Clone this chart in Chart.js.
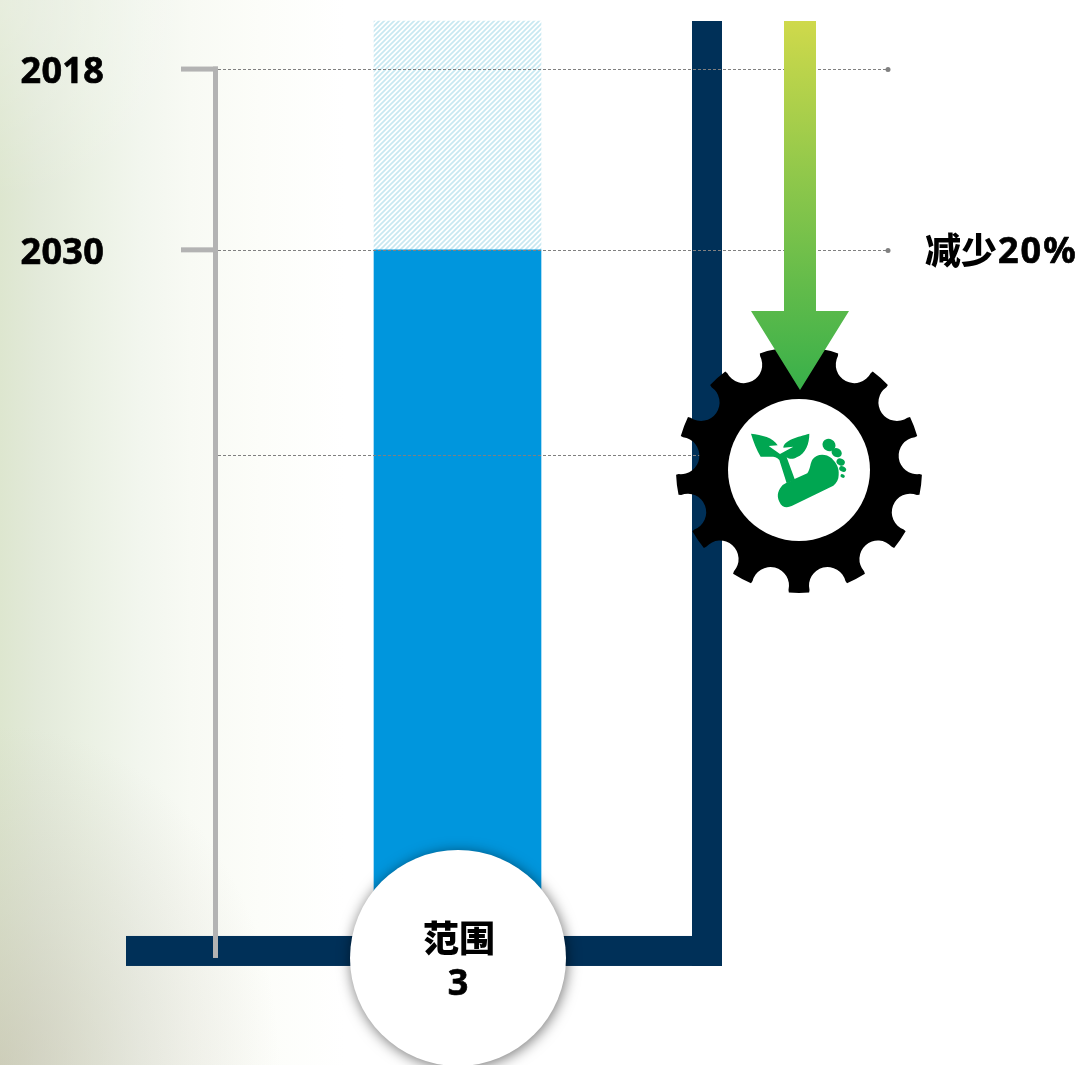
<!DOCTYPE html>
<html>
<head>
<meta charset="utf-8">
<title>范围 3</title>
<script src="https://cdn.jsdelivr.net/npm/chart.js@4/dist/chart.umd.min.js"></script>
<style>
  html, body { margin: 0; padding: 0; background: #fff; overflow: hidden; }
  #wrap {
    position: relative; width: 1084px; height: 1065px;
    background:
      radial-gradient(ellipse 280px 340px at 0 100%, rgba(190,182,165,0.5) 0, rgba(195,190,175,0.3) 45%, rgba(200,195,180,0) 100%),
      radial-gradient(ellipse 200px 200px at 0 0, rgba(255,255,255,0.3) 0, rgba(255,255,255,0) 100%),
      linear-gradient(90deg, #dde6cf 0, #e3eada 40px, #ebf1e4 90px, #f2f6ee 140px, #f8faf4 190px, #fcfdf9 260px, #ffffff 345px);
  }
</style>
</head>
<body>
<div id="wrap"><canvas id="chart" width="1084" height="1065"></canvas></div>
<script>
// ------------------------- DATA -------------------------------------

var categories = ["范围 3"];
var years = ["2018", "2030"];
var yearValues = [100, 79.5];      // share of the 2018 level
var targetValues = [79.5];         // solid bar
var hatchedValues = [25.95];       // hatched part on top of the solid bar
var guideValue = 56.25;            // third dotted line, ends at the gear
var reductionLabel = "减少20%";

// ------------------------- COLORS -----------------------------------

var NAVY = "#003058";
var BLUE = "#0096dd";
var GREY = "#b3b3b3";
var DOT = "#808080";
var LEAF = "#00a651";

// diagonal stripes for the part that goes away
function hatchPattern() {
  var c = document.createElement("canvas");
  c.width = 5; c.height = 5;
  var p = c.getContext("2d");
  p.strokeStyle = "#c8e8f1";
  p.lineWidth = 1.7;
  p.beginPath();
  p.moveTo(-1, 6); p.lineTo(6, -1);
  p.moveTo(-1, 1); p.lineTo(1, -1);
  p.moveTo(4, 6); p.lineTo(6, 4);
  p.stroke();
  return p.createPattern(c, "repeat");
}

// ------------------------- DRAWING ----------------------------------

// bold text with a hair of stroke, the source face is heavier than what we have
function heavyText(ctx, text, x, y, weight) {
  ctx.lineWidth = weight;
  ctx.strokeStyle = "#000";
  ctx.lineJoin = "round";
  ctx.strokeText(text, x, y);
  ctx.fillText(text, x, y);
}

function drawAxisFrame(ctx, y) {
  var base = y.getPixelForValue(0);
  var top = 21;
  ctx.fillStyle = NAVY;
  ctx.fillRect(126, base - 15, 596, 30);
  ctx.fillRect(692, top, 30, base + 15 - top);
}

function drawBracket(ctx, y) {
  ctx.fillStyle = GREY;
  var y0 = y.getPixelForValue(yearValues[0]);
  ctx.fillRect(213, y0 - 2.5, 5, y.getPixelForValue(0) + 7 - y0 + 2.5);
  yearValues.forEach(function(v) {
    ctx.fillRect(181, y.getPixelForValue(v) - 2.5, 37, 5);
  });
}

function drawGuides(ctx, y) {
  ctx.save();
  ctx.strokeStyle = DOT;
  ctx.fillStyle = DOT;
  ctx.lineWidth = 1;
  ctx.setLineDash([3, 2]);
  yearValues.forEach(function(v) {
    var py = Math.round(y.getPixelForValue(v)) + 0.5;
    ctx.beginPath(); ctx.moveTo(218, py); ctx.lineTo(888, py); ctx.stroke();
    ctx.beginPath(); ctx.arc(888, py, 2.5, 0, Math.PI * 2); ctx.fill();
  });
  var gy = Math.round(y.getPixelForValue(guideValue)) + 0.5;
  ctx.beginPath(); ctx.moveTo(218, gy); ctx.lineTo(700, gy); ctx.stroke();
  ctx.restore();
}

function drawCircle(ctx, y) {
  var cy = y.getPixelForValue(0) + 7;
  ctx.save();
  ctx.shadowColor = "rgba(0,0,0,0.55)";
  ctx.shadowBlur = 14;
  ctx.shadowOffsetX = 1;
  ctx.shadowOffsetY = 2;
  ctx.fillStyle = "#fff";
  ctx.beginPath(); ctx.arc(458, cy, 108, 0, Math.PI * 2); ctx.fill();
  ctx.restore();
  ctx.fillStyle = "#000";
  ctx.textAlign = "center";
  ctx.textBaseline = "middle";
  ctx.font = '900 36px "Noto Sans CJK SC"';
  var parts = categories[0].split(" ");
  ctx.fillText(parts[0], 459, 938);
  ctx.font = 'bold 36px "Noto Sans"';
  heavyText(ctx, parts[1], 458, 985, 0.7);
}

function drawGear(ctx) {
  var cx = 799, cy = 470, R = 123, d = 119, r = 18.5, n = 13;
  var beta = Math.asin(19.5 / R);     // half opening of a notch on the rim
  var step = Math.PI * 2 / n;
  ctx.beginPath();
  for (var i = 0; i < n; i++) {
    var a = -Math.PI / 2 + i * step;
    var next = a + step;
    ctx.arc(cx, cy, R, a + beta, next - beta);
    var nx = cx + d * Math.cos(next), ny = cy + d * Math.sin(next);
    ctx.arc(nx, ny, r, next - Math.PI / 2, next + Math.PI / 2, true);
  }
  ctx.closePath();
  ctx.fillStyle = "#000";
  ctx.fill();
  ctx.fillStyle = "#fff";
  ctx.beginPath(); ctx.arc(cx, cy, 71, 0, Math.PI * 2); ctx.fill();
}

function drawIcon(ctx) {
  ctx.save();
  ctx.translate(730, 400);
  ctx.scale(1 / 3, 1 / 3);
  ctx.fillStyle = LEAF;
  // leaves and stem
  ctx.fill(new Path2D("M63,101 C95,105 130,112 143,136 L116,138 L150,162 L190,140 L160,143 C162,120 205,110 238,101 C238,130 228,160 200,172 C190,178 178,178 170,172 L195,240 L170,250 L148,180 C135,165 120,172 92,170 C80,150 70,125 63,101 Z"));
  // sole
  ctx.fill(new Path2D("M192,238 L232,220 C242,205 240,190 248,178 C258,163 285,158 305,175 C320,190 328,205 326,225 C326,238 320,250 310,257 L185,318 C170,325 155,322 148,305 C138,285 146,268 158,255 C170,248 182,244 192,238 Z"));
  // toes
  [[297, 135, 20, 18], [320, 158, 16, 13], [332, 186, 13, 10], [338, 207, 11, 8], [338, 228, 7, 5]].forEach(function(t) {
    ctx.beginPath();
    ctx.ellipse(t[0], t[1], t[2], t[3], 0.5, 0, Math.PI * 2);
    ctx.fill();
  });
  ctx.restore();
}

function drawArrow(ctx) {
  var g = ctx.createLinearGradient(0, 21, 0, 390);
  g.addColorStop(0, "#cfd94b");
  g.addColorStop(1, "#38b04a");
  ctx.fillStyle = g;
  ctx.beginPath();
  ctx.moveTo(784, 21); ctx.lineTo(816, 21); ctx.lineTo(816, 311); ctx.lineTo(849, 311);
  ctx.lineTo(800, 390); ctx.lineTo(751, 311); ctx.lineTo(784, 311);
  ctx.closePath();
  ctx.fill();
}

function drawLabels(ctx, y) {
  ctx.fillStyle = "#000";
  ctx.textBaseline = "middle";
  ctx.textAlign = "left";
  ctx.font = 'bold 36px "Noto Sans"';
  ctx.letterSpacing = "0.3px";
  years.forEach(function(t, i) {
    heavyText(ctx, t, 20.5, y.getPixelForValue(yearValues[i]) + 3.5, 0.7);
  });
  var py = y.getPixelForValue(yearValues[1]);
  ctx.letterSpacing = "0px";
  ctx.font = '900 36px "Noto Sans CJK SC"';
  ctx.fillText(reductionLabel.slice(0, 2), 925, py);
  ctx.font = 'bold 36px "Noto Sans"';
  ctx.letterSpacing = "2px";
  heavyText(ctx, reductionLabel.slice(2), 998, py + 3, 0.7);
  ctx.letterSpacing = "0px";
}

// frame goes under the bars, the rest on top
var decoration = {
  id: "decoration",
  beforeDatasetsDraw: function(chart) {
    var ctx = chart.ctx, y = chart.scales.y;
    ctx.save();
    drawAxisFrame(ctx, y);
    ctx.restore();
  },
  afterDatasetsDraw: function(chart) {
    var ctx = chart.ctx, y = chart.scales.y;
    ctx.save();
    drawGuides(ctx, y);
    drawBracket(ctx, y);
    drawCircle(ctx, y);
    drawGear(ctx);
    drawIcon(ctx);
    drawArrow(ctx);
    drawLabels(ctx, y);
    ctx.restore();
  }
};

// ------------------------- CHART ------------------------------------

new Chart(document.getElementById("chart"), {
  type: "bar",
  data: {
    labels: categories,
    datasets: [
      { label: "2030", data: targetValues, backgroundColor: BLUE, barThickness: 167, borderWidth: 0 },
      { label: "2018", data: hatchedValues, backgroundColor: hatchPattern(), barThickness: 167, borderWidth: 0 }
    ]
  },
  options: {
    responsive: false,
    animation: false,
    devicePixelRatio: 1,
    layout: { padding: { left: 0, right: 169, top: 0, bottom: 0 } },
    plugins: { legend: { display: false }, tooltip: { enabled: false } },
    scales: {
      x: { stacked: true, display: false },
      y: { stacked: true, display: false, min: -12.93, max: 107.83 }
    }
  },
  plugins: [decoration]
});
</script>
</body>
</html>
